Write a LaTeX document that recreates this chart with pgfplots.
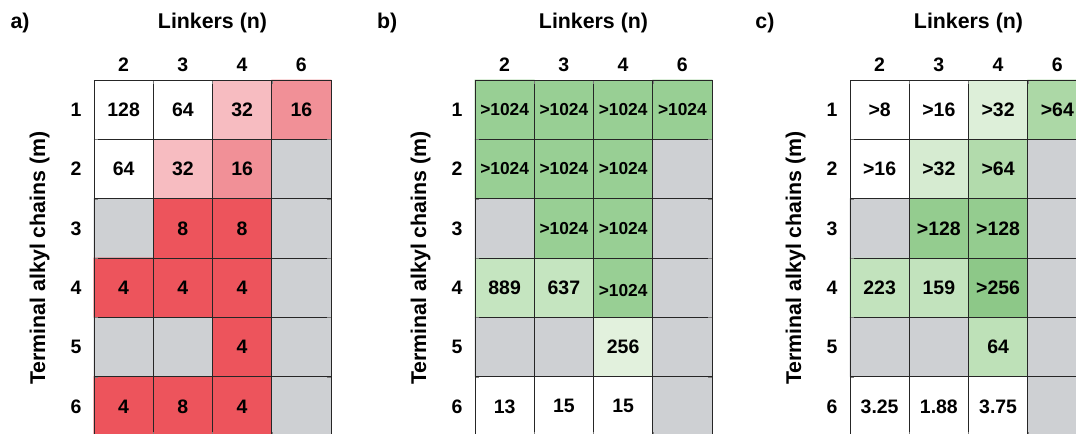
\documentclass[border=0pt]{standalone}
\usepackage{pgfplots}
\pgfplotsset{compat=1.18}
\usepackage{pgfplotstable}
\usepackage{fontspec}
\setmainfont{Liberation Sans}

\newcommand\tl[1]{\mbox{\bfseries\fontsize{14.6}{16}\selectfont #1}}

\definecolor{gry}{RGB}{206,208,211}
\definecolor{wht}{RGB}{255,255,255}
\definecolor{pka}{RGB}{247,188,193}
\definecolor{pkb}{RGB}{241,144,151}
\definecolor{rda}{RGB}{237,84,92}
\definecolor{gba}{RGB}{152,207,148}
\definecolor{gbb}{RGB}{197,229,192}
\definecolor{gbc}{RGB}{226,241,221}
\definecolor{cga}{RGB}{221,239,217}
\definecolor{cgb}{RGB}{172,216,166}
\definecolor{cgc}{RGB}{214,235,209}
\definecolor{cgd}{RGB}{178,219,172}
\definecolor{cge}{RGB}{148,204,143}
\definecolor{cgf}{RGB}{194,227,189}
\definecolor{cgg}{RGB}{141,200,136}
\definecolor{cgh}{RGB}{190,225,184}

% panel a
\pgfplotstableread{
x y c
0 1 color=wht
1 1 color=wht
2 1 color=pka
3 1 color=pkb
0 2 color=wht
1 2 color=pka
2 2 color=pkb
3 2 color=gry
0 3 color=gry
1 3 color=rda
2 3 color=rda
3 3 color=gry
0 4 color=rda
1 4 color=rda
2 4 color=rda
3 4 color=gry
0 5 color=gry
1 5 color=gry
2 5 color=rda
3 5 color=gry
0 6 color=rda
1 6 color=rda
2 6 color=rda
3 6 color=gry
}\acells
\pgfplotstableread{
x y t
0 1 128
1 1 64
2 1 32
3 1 16
0 2 64
1 2 32
2 2 16
1 3 8
2 3 8
0 4 4
1 4 4
2 4 4
2 5 4
0 6 4
1 6 8
2 6 4
}\alabels

% panel b
\pgfplotstableread{
x y c
0 1 color=gba
1 1 color=gba
2 1 color=gba
3 1 color=gba
0 2 color=gba
1 2 color=gba
2 2 color=gba
3 2 color=gry
0 3 color=gry
1 3 color=gba
2 3 color=gba
3 3 color=gry
0 4 color=gbb
1 4 color=gbb
2 4 color=gba
3 4 color=gry
0 5 color=gry
1 5 color=gry
2 5 color=gbc
3 5 color=gry
0 6 color=wht
1 6 color=wht
2 6 color=wht
3 6 color=gry
}\bcells
\pgfplotstableread{
x y t
0 1 >1024
1 1 >1024
2 1 >1024
3 1 >1024
0 2 >1024
1 2 >1024
2 2 >1024
1 3 >1024
2 3 >1024
2 4.05 >1024
}\blabelsgt
\pgfplotstableread{
x y t
0 4 889
1 4 637
2 5 256
0 6 13
1 6 15
2 6 15
}\blabels

% panel c
\pgfplotstableread{
x y c
0 1 color=wht
1 1 color=wht
2 1 color=cga
3 1 color=cgb
0 2 color=wht
1 2 color=cgc
2 2 color=cgd
3 2 color=gry
0 3 color=gry
1 3 color=cge
2 3 color=cge
3 3 color=gry
0 4 color=cgf
1 4 color=cgf
2 4 color=cgg
3 4 color=gry
0 5 color=gry
1 5 color=gry
2 5 color=cgh
3 5 color=gry
0 6 color=wht
1 6 color=wht
2 6 color=wht
3 6 color=gry
}\ccells
\pgfplotstableread{
x y t
0 1 >8
1 1 >16
2 1 >32
3 1 >64
0 2 >16
1 2 >32
2 2 >64
1 3 >128
2 3 >128
0 4 223
1 4 159
2 4 >256
2 5 64
0 6 3.25
1 6 1.88
2 6 3.75
}\clabels

\pgfplotsset{
  heat/.style={
    width=177.75pt, height=267pt, scale only axis,
    anchor=north west,
    xmin=-0.5, xmax=3.5, ymin=0.5, ymax=6.5, y dir=reverse,
    xtick={0,1,2,3}, xticklabels={\tl{2},\tl{3},\tl{4},\tl{6}},
    ytick={1,2,3,4,5,6}, yticklabels={\tl{1},\tl{2},\tl{3},\tl{4},\tl{5},\tl{6}},
    xticklabel pos=right,
    major tick length=0pt,
    minor xtick={-0.5,0.5,1.5,2.5,3.5},
    minor ytick={0.5,1.5,2.5,3.5,4.5,5.5,6.5},
    grid=minor,
    minor grid style={black!85, line width=0.7pt},
    axis line style={black!85, line width=0.7pt},
    axis on top,
    clip=false,
    xticklabel style={anchor=center, yshift=11.25pt},
    yticklabel style={anchor=center, xshift=-13.5pt},
    xlabel={Linkers (n)},
    ylabel={Terminal alkyl chains (m)},
    every axis x label/.style={at={(axis description cs:0.5,1.159)}, anchor=center, font=\bfseries\fontsize{16}{18}\selectfont},
    every axis y label/.style={at={(axis description cs:-0.23,0.5)}, rotate=90, anchor=center, font=\bfseries\fontsize{16}{18}\selectfont},
  },
  cells/.style={matrix plot*, mesh/cols=4, mesh/color input=explicit},
  labs/.style={only marks, mark=none, nodes near coords, point meta=explicit symbolic,
    nodes near coords style={anchor=center, font=\bfseries\fontsize{14.6}{16}\selectfont}},
  labsgt/.style={only marks, mark=none, nodes near coords, point meta=explicit symbolic,
    nodes near coords style={anchor=center, font=\bfseries\fontsize{13}{15}\selectfont}},
}

\begin{document}
\begin{tikzpicture}
\path[use as bounding box] (0pt,0pt) rectangle (807pt,-324.75pt);
\clip (0pt,0pt) rectangle (807pt,-324.75pt);

\begin{axis}[heat, at={(70.5pt,-60pt)}]
\addplot[cells] table[meta=c] {\acells};
\addplot[labs] table[meta=t] {\alabels};
\node[font=\bfseries\fontsize{16}{18}\selectfont] at (axis description cs:-0.312,1.159) {a)};
\end{axis}

\begin{axis}[heat, at={(356.25pt,-60pt)}]
\addplot[cells] table[meta=c] {\bcells};
\addplot[labsgt] table[meta=t] {\blabelsgt};
\addplot[labs] table[meta=t] {\blabels};
\node[font=\bfseries\fontsize{16}{18}\selectfont] at (axis description cs:-0.371,1.159) {b)};
\end{axis}

\begin{axis}[heat, at={(637.5pt,-60pt)}]
\addplot[cells] table[meta=c] {\ccells};
\addplot[labs] table[meta=t] {\clabels};
\node[font=\bfseries\fontsize{16}{18}\selectfont] at (axis description cs:-0.359,1.159) {c)};
\end{axis}
\end{tikzpicture}
\end{document}
